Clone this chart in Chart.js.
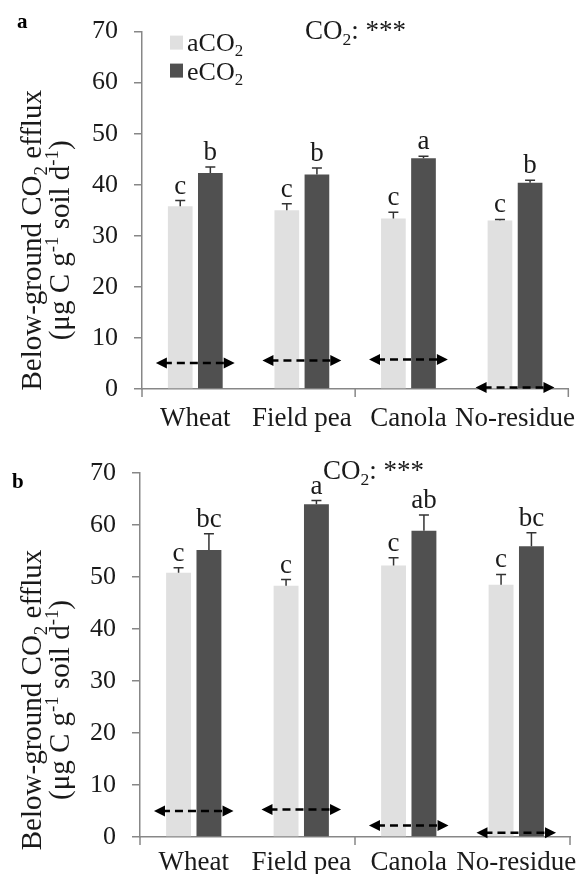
<!DOCTYPE html>
<html>
<head>
<meta charset="utf-8">
<script src="https://cdn.jsdelivr.net/npm/chart.js@4.4.1/dist/chart.umd.min.js"></script>
<style>
  html, body { margin: 0; padding: 0; background: #fff; }
  .panel { position: absolute; left: 0; width: 582px; height: 437px; }
</style>
</head>
<body>
<div class="panel" style="top:0"><canvas id="cA" width="582" height="437"></canvas></div>
<div class="panel" style="top:437px"><canvas id="cB" width="582" height="437"></canvas></div>
<script>
// Below-ground CO2 efflux, two sampling dates (panel a, panel b)
const CATEGORIES = ['Wheat', 'Field pea', 'Canola', 'No-residue'];
const Y_TICKS = [0, 10, 20, 30, 40, 50, 60, 70];

// panel a
const A_AMB = [35.8, 35.0, 33.4, 33.0];
const A_AMB_ERR = [1.1, 1.3, 1.2, 0.2];
const A_ELEV = [42.3, 42.0, 45.2, 40.4];
const A_ELEV_ERR = [1.2, 1.3, 0.4, 0.5];
const A_AMB_LETTERS = ['c', 'c', 'c', 'c'];
const A_ELEV_LETTERS = ['b', 'b', 'a', 'b'];
const A_ARROWS = [5.1, 5.6, 5.8, 0.3];

// panel b
const B_AMB = [50.8, 48.3, 52.2, 48.5];
const B_AMB_ERR = [1.0, 1.2, 1.5, 2.0];
const B_ELEV = [55.2, 64.0, 58.9, 55.9];
const B_ELEV_ERR = [3.1, 0.7, 3.0, 2.6];
const B_AMB_LETTERS = ['c', 'c', 'c', 'c'];
const B_ELEV_LETTERS = ['bc', 'a', 'ab', 'bc'];
const B_ARROWS = [5.0, 5.3, 2.2, 0.8];

const SERIF = "'Liberation Serif', 'Times New Roman', serif";
const LIGHT = '#e0e0e0';
const DARK = '#505050';
const AXIS = '#878787';
const INK = '#1a1a1a';

// draw text made of parts, some of them sub/superscript
function richWidth(ctx, parts, size) {
  let w = 0;
  parts.forEach(p => {
    ctx.font = `${p.sub || p.sup ? size * 0.65 : size}px ${SERIF}`;
    w += ctx.measureText(p.t).width;
  });
  return w;
}

function drawRich(ctx, parts, x, y, size, align) {
  let cx = align === 'center' ? x - richWidth(ctx, parts, size) / 2 : x;
  ctx.textAlign = 'left';
  ctx.textBaseline = 'alphabetic';
  parts.forEach(p => {
    const small = p.sub || p.sup;
    ctx.font = `${small ? size * 0.65 : size}px ${SERIF}`;
    const dy = p.sub ? size * 0.22 : (p.sup ? -size * 0.38 : 0);
    ctx.fillText(p.t, cx, y + dy);
    cx += ctx.measureText(p.t).width;
  });
}

function annotations(cfg) {
  return {
    id: 'annot',
    afterDraw(chart) {
      const ctx = chart.ctx;
      const xs = chart.scales.x;
      const ys = chart.scales.y;
      const area = chart.chartArea;
      const catW = xs.getPixelForValue(1) - xs.getPixelForValue(0);
      ctx.save();

      // error bars + letters
      const errs = [cfg.ambErr, cfg.elevErr];
      const letters = [cfg.ambLetters, cfg.elevLetters];
      chart.data.datasets.forEach((ds, di) => {
        const meta = chart.getDatasetMeta(di);
        meta.data.forEach((bar, i) => {
          const top = ys.getPixelForValue(ds.data[i] + errs[di][i]);
          const base = ys.getPixelForValue(ds.data[i]);
          ctx.strokeStyle = '#333';
          ctx.lineWidth = 1.5;
          ctx.beginPath();
          ctx.moveTo(bar.x, base);
          ctx.lineTo(bar.x, top);
          ctx.moveTo(bar.x - 5, top);
          ctx.lineTo(bar.x + 5, top);
          ctx.stroke();
          ctx.fillStyle = INK;
          ctx.font = `27px ${SERIF}`;
          ctx.textAlign = 'center';
          ctx.textBaseline = 'alphabetic';
          ctx.fillText(letters[di][i], bar.x, top - 7);
        });
      });

      // dashed double arrows
      cfg.arrows.forEach((v, i) => {
        const cx = xs.getPixelForValue(i);
        const y = ys.getPixelForValue(v);
        const x0 = cx - catW * 0.37, x1 = cx + catW * 0.37;
        ctx.strokeStyle = '#000';
        ctx.lineWidth = 2.5;
        ctx.setLineDash([8, 5]);
        ctx.beginPath();
        ctx.moveTo(x0 + 8, y);
        ctx.lineTo(x1 - 8, y);
        ctx.stroke();
        ctx.setLineDash([]);
        ctx.fillStyle = '#000';
        ctx.beginPath();
        ctx.moveTo(x0, y); ctx.lineTo(x0 + 11, y - 5.5); ctx.lineTo(x0 + 11, y + 5.5); ctx.closePath();
        ctx.moveTo(x1, y); ctx.lineTo(x1 - 11, y - 5.5); ctx.lineTo(x1 - 11, y + 5.5); ctx.closePath();
        ctx.fill();
      });

      // x tick marks every second category boundary
      ctx.strokeStyle = AXIS;
      ctx.lineWidth = 1.5;
      for (let b = 0; b <= CATEGORIES.length; b += 2) {
        const px = xs.getPixelForValue(0) - catW / 2 + b * catW;
        ctx.beginPath();
        ctx.moveTo(px, area.bottom);
        ctx.lineTo(px, area.bottom + 8);
        ctx.stroke();
      }

      // significance note
      ctx.fillStyle = INK;
      drawRich(ctx, [{ t: 'CO' }, { t: '2', sub: true }, { t: ': ***' }],
        area.left + cfg.noteDx, area.top + cfg.noteDy, 27, 'left');

      // legend
      if (cfg.legend) {
        const lx = area.left + 28, ly = area.top + 4;
        [[LIGHT, 'a'], [DARK, 'e']].forEach(([col, pre], k) => {
          ctx.fillStyle = col;
          ctx.fillRect(lx, ly + k * 28, 13, 14);
          ctx.fillStyle = INK;
          drawRich(ctx, [{ t: pre + 'CO' }, { t: '2', sub: true }], lx + 17, ly + 15 + k * 29, 26, 'left');
        });
      }

      // panel letter
      ctx.fillStyle = '#000';
      ctx.font = `bold 21px ${SERIF}`;
      ctx.textAlign = 'left';
      ctx.textBaseline = 'alphabetic';
      ctx.fillText(cfg.panel, cfg.panelX, cfg.panelY);

      // y axis title
      ctx.translate(0, (area.top + area.bottom) / 2 + cfg.titleDy);
      ctx.rotate(-Math.PI / 2);
      ctx.fillStyle = INK;
      drawRich(ctx, [{ t: 'Below-ground CO' }, { t: '2', sub: true }, { t: ' efflux' }], 0, 41, 29, 'center');
      drawRich(ctx, [{ t: '(\u03bcg C g' }, { t: '-1', sup: true }, { t: ' soil d' }, { t: '-1', sup: true }, { t: ')' }], 0, 69, 29, 'center');

      ctx.restore();
    }
  };
}

function buildChart(id, cfg) {
  const tickFont = { family: SERIF, size: 26 };
  return new Chart(document.getElementById(id), {
    type: 'bar',
    data: {
      labels: CATEGORIES,
      datasets: [
        { label: 'aCO2', data: cfg.amb, backgroundColor: LIGHT, categoryPercentage: 0.565, barPercentage: 0.82 },
        { label: 'eCO2', data: cfg.elev, backgroundColor: DARK, categoryPercentage: 0.565, barPercentage: 0.82 }
      ]
    },
    options: {
      responsive: false,
      animation: false,
      layout: { padding: { top: cfg.padTop, right: cfg.padRight, left: 0, bottom: 0 } },
      plugins: { legend: { display: false }, tooltip: { enabled: false } },
      scales: {
        x: {
          grid: { display: false },
          border: { display: true, color: AXIS, width: 1.5 },
          ticks: { font: { family: SERIF, size: 27 }, color: INK, padding: cfg.xPad, maxRotation: 0, autoSkip: false },
          afterFit: s => { s.height = cfg.xHeight; }
        },
        y: {
          min: Y_TICKS[0],
          max: Y_TICKS[Y_TICKS.length - 1],
          afterBuildTicks: s => { s.ticks = Y_TICKS.map(v => ({ value: v })); },
          ticks: { font: tickFont, color: INK, padding: 16 },
          grid: { drawOnChartArea: false, drawTicks: true, tickLength: 8, color: AXIS, lineWidth: 1.5 },
          border: { color: AXIS, width: 1.5 },
          afterFit: s => { s.width = cfg.yWidth; }
        }
      }
    },
    plugins: [annotations(cfg)]
  });
}

buildChart('cA', {
  amb: A_AMB, ambErr: A_AMB_ERR, elev: A_ELEV, elevErr: A_ELEV_ERR,
  ambLetters: A_AMB_LETTERS, elevLetters: A_ELEV_LETTERS, arrows: A_ARROWS,
  padTop: 25, padRight: 8, yWidth: 142, xHeight: 48, xPad: 6,
  noteDx: 163, noteDy: 7, legend: true, panel: 'a', panelX: 17, panelY: 28, titleDy: 30
});

buildChart('cB', {
  amb: B_AMB, ambErr: B_AMB_ERR, elev: B_ELEV, elevErr: B_ELEV_ERR,
  ambLetters: B_AMB_LETTERS, elevLetters: B_ELEV_LETTERS, arrows: B_ARROWS,
  padTop: 36, padRight: 12, yWidth: 140, xHeight: 37, xPad: 2,
  noteDx: 183, noteDy: 6, legend: false, panel: 'b', panelX: 12, panelY: 51, titleDy: 45
});
</script>
</body>
</html>
